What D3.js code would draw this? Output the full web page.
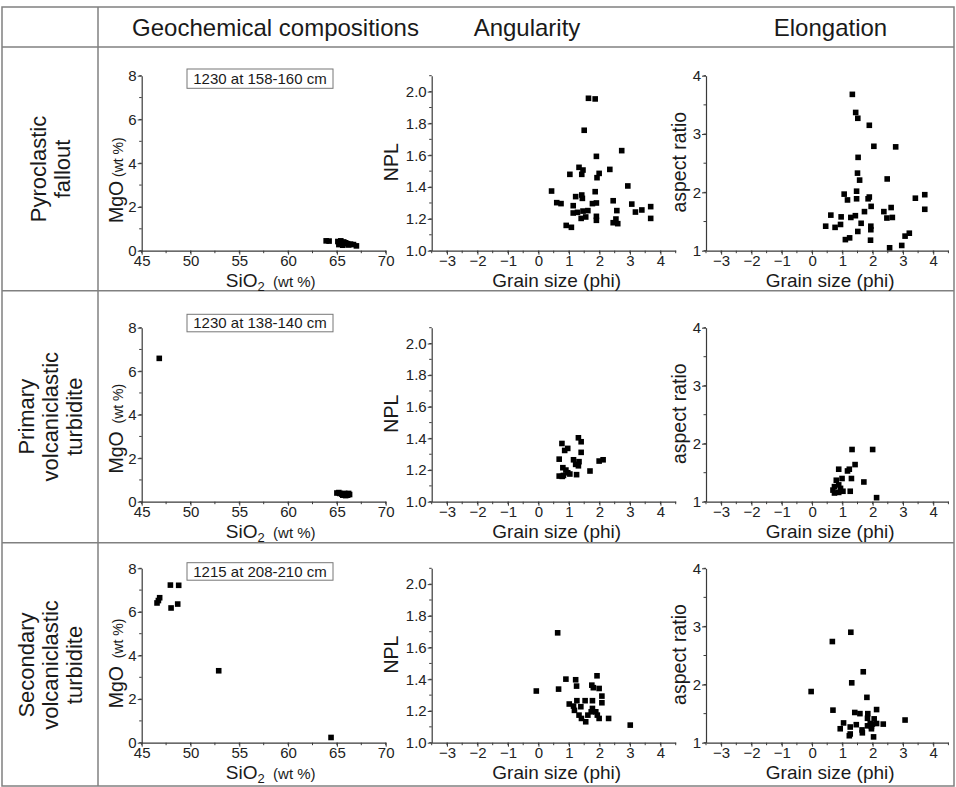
<!DOCTYPE html>
<html><head><meta charset="utf-8">
<script src="https://cdn.jsdelivr.net/npm/d3@7"></script>
<style>
html,body{margin:0;padding:0;background:#fff;}
svg{display:block;font-family:"Liberation Sans",Arial,sans-serif;}
</style></head>
<body><svg id="chart" width="956" height="787"></svg>
<script>
// ---------- DATA ----------
const columnTitles = ["Geochemical compositions", "Angularity", "Elongation"];
const rowTitles = [["Pyroclastic", "fallout"], ["Primary", "volcaniclastic", "turbidite"], ["Secondary", "volcaniclastic", "turbidite"]];
const sampleLabels = ["1230 at 158-160 cm", "1230 at 138-140 cm", "1215 at 208-210 cm"];

const geoTicksX = [45, 50, 55, 60, 65, 70];
const geoTicksY = [0, 2, 4, 6, 8];
const npTicksY = [1.0, 1.2, 1.4, 1.6, 1.8, 2.0];
const arTicksY = [1, 2, 3, 4];
const phiTicks = [-3, -2, -1, 0, 1, 2, 3, 4];

// Geochemistry: [SiO2, MgO]
const geo1 = [[63.9,0.45],[64.2,0.44],[65.1,0.42],[65.4,0.45],[65.7,0.40],[65.3,0.35],[65.5,0.30],[65.9,0.36],[66.1,0.32],[66.4,0.30],[66.7,0.28],[67.0,0.22],[65.6,0.25],[66.2,0.26],[65.2,0.28]];
const geo2 = [[46.8,6.59],[65.0,0.40],[65.3,0.38],[65.5,0.35],[65.8,0.38],[66.0,0.35],[66.2,0.38],[65.6,0.30],[65.9,0.28],[66.1,0.30],[65.2,0.42],[66.3,0.33]];
const geo3 = [[46.57,6.41],[46.71,6.52],[46.84,6.65],[47.94,7.23],[48.79,7.22],[48.01,6.18],[48.69,6.36],[52.89,3.30],[64.40,0.24]];

// Angularity: [phi, NPL]
const npl1 = [[1.64,1.958],[1.86,1.954],[1.50,1.757],[2.73,1.629],[1.90,1.593],[1.33,1.524],[1.46,1.507],[1.03,1.480],[1.42,1.480],[1.99,1.486],[2.34,1.511],[1.92,1.459],[0.43,1.375],[1.86,1.371],[2.93,1.407],[0.60,1.302],[0.74,1.296],[1.22,1.340],[1.42,1.350],[1.44,1.329],[1.14,1.283],[1.90,1.300],[1.77,1.296],[2.45,1.314],[3.06,1.293],[3.68,1.277],[1.14,1.237],[1.28,1.241],[1.46,1.249],[1.62,1.252],[2.57,1.252],[3.18,1.243],[3.39,1.256],[1.40,1.203],[1.55,1.212],[1.90,1.216],[1.90,1.191],[2.54,1.199],[3.68,1.203],[0.91,1.159],[1.08,1.147],[2.45,1.176],[2.60,1.170]];
const npl2 = [[1.31,1.404],[1.40,1.379],[0.77,1.368],[0.96,1.337],[0.86,1.324],[1.40,1.312],[0.68,1.269],[1.15,1.265],[1.33,1.253],[1.99,1.257],[2.12,1.265],[1.22,1.236],[1.31,1.227],[0.80,1.215],[0.90,1.200],[1.69,1.194],[0.96,1.183],[1.03,1.175],[0.82,1.166],[0.68,1.162],[1.25,1.171],[0.78,1.160]];
const npl3 = [[0.63,1.693],[-0.07,1.326],[0.66,1.338],[0.90,1.401],[1.22,1.397],[1.25,1.357],[1.92,1.422],[1.75,1.363],[1.80,1.347],[1.99,1.342],[2.08,1.294],[2.08,1.252],[1.01,1.244],[1.26,1.265],[1.53,1.265],[1.77,1.265],[1.15,1.231],[1.39,1.227],[1.18,1.204],[1.77,1.216],[1.88,1.195],[1.33,1.174],[1.62,1.174],[1.93,1.174],[1.41,1.153],[1.55,1.132],[1.99,1.153],[2.30,1.153],[3.01,1.111],[1.73,1.195]];

// Elongation: [phi, aspect ratio]
const ar1 = [[1.33,3.68],[1.44,3.37],[1.51,3.27],[1.89,3.15],[2.04,2.79],[2.76,2.78],[1.52,2.60],[1.50,2.33],[1.57,2.21],[2.48,2.23],[1.06,1.97],[1.17,1.87],[1.47,2.02],[1.47,1.89],[1.85,1.89],[1.89,1.92],[1.95,1.76],[3.41,1.90],[3.72,1.96],[3.72,1.71],[0.62,1.61],[1.73,1.67],[2.37,1.67],[2.61,1.74],[0.96,1.58],[1.28,1.57],[1.43,1.60],[2.47,1.56],[2.65,1.57],[0.45,1.42],[0.76,1.40],[0.94,1.45],[1.62,1.47],[1.94,1.42],[1.94,1.36],[1.51,1.33],[1.10,1.19],[1.24,1.22],[1.93,1.18],[3.07,1.25],[3.21,1.30],[2.56,1.05],[2.96,1.09]];
const ar2 = [[1.32,1.90],[2.00,1.90],[1.42,1.64],[1.23,1.56],[1.17,1.53],[0.88,1.56],[0.99,1.40],[1.30,1.40],[1.71,1.34],[0.80,1.37],[0.74,1.26],[0.88,1.29],[0.94,1.23],[0.74,1.15],[0.88,1.16],[1.02,1.18],[1.26,1.18],[2.13,1.07],[0.69,1.20]];
const ar3 = [[1.28,2.90],[0.67,2.74],[1.69,2.22],[1.31,2.03],[-0.03,1.88],[1.81,1.78],[0.69,1.56],[2.13,1.57],[1.41,1.52],[1.58,1.50],[1.84,1.50],[3.07,1.39],[1.83,1.42],[2.05,1.41],[1.04,1.34],[1.46,1.31],[1.92,1.33],[2.13,1.33],[2.35,1.32],[1.83,1.29],[1.96,1.28],[0.93,1.24],[1.26,1.27],[1.65,1.22],[1.66,1.17],[1.96,1.24],[1.26,1.15],[1.23,1.12],[2.03,1.10],[1.99,1.32]];

// ---------- LAYOUT ----------
const svg = d3.select("#chart");
const lineCol = "#808080", axisCol = "#3a3a3a", textCol = "#1a1a1a";
const table = {left: 2, right: 954, top: 7, header: 47, colDiv: 98, rowDivs: [290.7, 542.7], bottom: 786};
const rowsY = [{top: 75.7, bottom: 250.7, boxY: 69, boxH: 19.3}, {top: 327.7, bottom: 501.7, boxY: 314.3, boxH: 17.5}, {top: 568.3, bottom: 742.7, boxY: 562.7, boxH: 17.5}];
const colsX = [{left: 141.7, right: 385.7}, {left: 431.7, right: 675.7}, {left: 706, right: 948.4}];

// table lines
const tg = svg.append("g").attr("stroke", lineCol).attr("stroke-width", 1.5).attr("fill", "none");
tg.append("rect").attr("x", table.left).attr("y", table.top).attr("width", table.right - table.left).attr("height", table.bottom - table.top);
tg.append("line").attr("x1", table.left).attr("x2", table.right).attr("y1", table.header).attr("y2", table.header);
tg.append("line").attr("x1", table.colDiv).attr("x2", table.colDiv).attr("y1", table.top).attr("y2", table.bottom);
table.rowDivs.forEach(y => tg.append("line").attr("x1", table.left).attr("x2", table.right).attr("y1", y).attr("y2", y));

// column titles
const titleX = [275.5, 527, 830.5];
columnTitles.forEach((t, i) => svg.append("text").attr("x", titleX[i]).attr("y", 36)
  .attr("text-anchor", "middle").attr("font-size", 24).attr("fill", textCol).text(t));

// row titles
const rowCenters = [169, 416.7, 665];
rowTitles.forEach((lines, r) => {
  const n = lines.length, cx = 50, gap = 24;
  lines.forEach((l, k) => {
    const x = cx + (k - (n - 1) / 2) * gap + 8;
    svg.append("text").attr("transform", `translate(${x},${rowCenters[r]}) rotate(-90)`)
      .attr("text-anchor", "middle").attr("font-size", 22).attr("fill", textCol).text(l);
  });
});

function minorTicks(domain, step) {
  const out = [];
  for (let v = Math.ceil(domain[0] / step - 1e-9) * step; v <= domain[1] + 1e-9; v += step) out.push(+v.toFixed(6));
  return out;
}

function panel(r, c, data, cfg) {
  const R = rowsY[r], C = colsX[c];
  const x = d3.scaleLinear().domain(cfg.xDomain).range([C.left, C.right]);
  const y = d3.scaleLinear().domain(cfg.yDomain).range([R.bottom, R.top]);
  const g = svg.append("g");

  // minor ticks
  const mg = g.append("g").attr("stroke", axisCol).attr("stroke-width", 1);
  minorTicks(cfg.xDomain, cfg.xMinor).forEach(v => mg.append("line").attr("x1", x(v)).attr("x2", x(v)).attr("y1", R.bottom).attr("y2", R.bottom + 2.5));
  minorTicks(cfg.yDomain, cfg.yMinor).forEach(v => mg.append("line").attr("y1", y(v)).attr("y2", y(v)).attr("x1", C.left).attr("x2", C.left - 2.5));

  const xa = g.append("g").attr("transform", `translate(0,${R.bottom})`)
    .call(d3.axisBottom(x).tickValues(cfg.xTicks).tickFormat(cfg.xFmt).tickSize(4).tickSizeOuter(0).tickPadding(0.5));
  const ya = g.append("g").attr("transform", `translate(${C.left},0)`)
    .call(d3.axisLeft(y).tickValues(cfg.yTicks).tickFormat(cfg.yFmt).tickSize(4).tickSizeOuter(0).tickPadding(1));
  [xa, ya].forEach(a => {
    a.select(".domain").attr("stroke", axisCol).attr("stroke-width", 1.2);
    a.selectAll(".tick line").attr("stroke", axisCol).attr("stroke-width", 1);
    a.selectAll(".tick text").attr("font-size", 15).attr("fill", "#222").attr("font-family", '"Liberation Sans",Arial,sans-serif');
  });

  // markers
  const s = 5.6;
  g.append("g").selectAll("rect").data(data).join("rect")
    .attr("x", d => x(d[0]) - s / 2).attr("y", d => y(d[1]) - s / 2)
    .attr("width", s).attr("height", s).attr("fill", "#000");

  // axis titles
  const cx = (C.left + C.right) / 2;
  cfg.xTitle(g, cx, R.bottom + 36.3);
  cfg.yTitle(g, C.left, (R.top + R.bottom) / 2, r);

  if (cfg.box) {
    const bx = 187, bw = 146;
    g.append("rect").attr("x", bx).attr("y", R.boxY).attr("width", bw).attr("height", R.boxH)
      .attr("fill", "#fff").attr("stroke", "#777").attr("stroke-width", 1);
    g.append("text").attr("x", bx + bw / 2).attr("y", R.boxY + R.boxH / 2 + 5.3).attr("text-anchor", "middle")
      .attr("font-size", 15).attr("fill", textCol).text(sampleLabels[r]);
  }
}

const sioTitle = (g, cx, by) => {
  const t = g.append("text").attr("x", cx + 7).attr("y", by).attr("text-anchor", "middle").attr("fill", textCol);
  t.append("tspan").attr("font-size", 19).text("SiO");
  t.append("tspan").attr("font-size", 13).attr("dy", 4).text("2");
  t.append("tspan").attr("font-size", 15).attr("dy", -4).text("\u00a0 (wt %)");
};
const mgoTitle = (g, ax, cy, r) => {
  const off = [17, 14, 8][r];
  const t = g.append("text").attr("transform", `translate(${ax - 18.5},${cy + off}) rotate(-90)`)
    .attr("text-anchor", "middle").attr("fill", textCol);
  t.append("tspan").attr("font-size", 19.5).text("MgO");
  t.append("tspan").attr("font-size", 14).text(r === 0 ? " (wt %)" : "\u00a0 (wt %)");
};
const grainTitle = (g, cx, by) => g.append("text").attr("x", cx + 3).attr("y", by).attr("text-anchor", "middle")
  .attr("font-size", 19).attr("fill", textCol).text("Grain size (phi)");
const nplTitle = (g, ax, cy) => g.append("text").attr("transform", `translate(${ax - 33.5},${cy - 1}) rotate(-90)`)
  .attr("text-anchor", "middle").attr("font-size", 19.5).attr("fill", textCol).text("NPL");
const arTitle = (g, ax, cy) => g.append("text").attr("transform", `translate(${ax - 20},${cy - 1}) rotate(-90)`)
  .attr("text-anchor", "middle").attr("font-size", 19.5).attr("fill", textCol).text("aspect ratio");

const geoCfg = {xDomain: [45, 70], yDomain: [0, 8], xTicks: geoTicksX, yTicks: geoTicksY, xMinor: 2.5, yMinor: 1,
  xFmt: d3.format("d"), yFmt: d3.format("d"), xTitle: sioTitle, yTitle: mgoTitle, box: true};
const nplCfg = {xDomain: [-3.5, 4.5], yDomain: [1, 2.1], xTicks: phiTicks, yTicks: npTicksY, xMinor: 0.5, yMinor: 0.1,
  xFmt: d3.format("d"), yFmt: d3.format(".1f"), xTitle: grainTitle, yTitle: nplTitle};
const arCfg = {xDomain: [-3.5, 4.5], yDomain: [1, 4], xTicks: phiTicks, yTicks: arTicksY, xMinor: 0.5, yMinor: 0.5,
  xFmt: d3.format("d"), yFmt: d3.format("d"), xTitle: grainTitle, yTitle: arTitle};

[geo1, geo2, geo3].forEach((d, r) => panel(r, 0, d, geoCfg));
[npl1, npl2, npl3].forEach((d, r) => panel(r, 1, d, nplCfg));
[ar1, ar2, ar3].forEach((d, r) => panel(r, 2, d, arCfg));
</script></body></html>
